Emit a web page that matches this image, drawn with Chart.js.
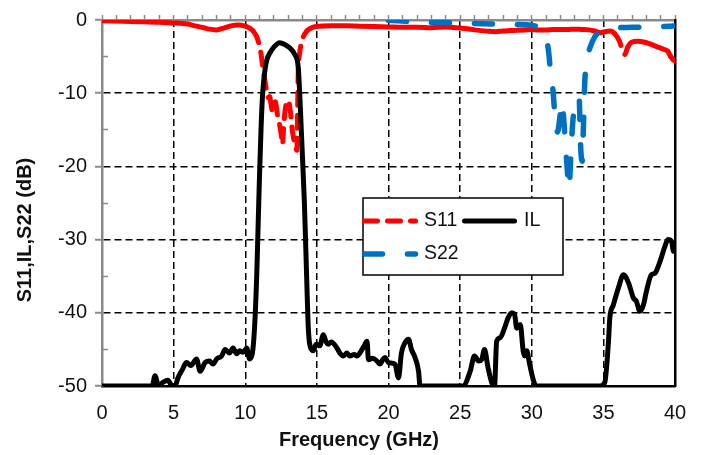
<!DOCTYPE html>
<html lang="en">
<head>
    <meta charset="UTF-8">
    <title>S11, IL, S22</title>
    <script src="https://cdn.jsdelivr.net/npm/chart.js"></script>
    <style>
        html, body { margin: 0; padding: 0; background: #fff; }
        canvas { display: block; }
    </style>
</head>
<body>
    <canvas id="sparams" width="703" height="455"></canvas>

    <script>
        // S11, port 1 reflection (dB)
        const s11Freq = [0, 1, 2, 3, 4, 5, 5.5, 6, 6.5, 7,
            7.5, 8, 8.5, 9, 9.5, 10, 10.3, 10.55, 10.8, 10.95,
            11.1, 11.2, 11.35, 11.5, 11.6, 11.7, 11.8, 11.9, 12.0, 12.1,
            12.25, 12.4, 12.5, 12.6, 12.7, 12.85, 13.0, 13.15, 13.3, 13.45,
            13.6, 13.65, 13.7, 13.8, 14.0, 14.3, 14.7, 15.2, 16, 17,
            18, 19, 20, 21, 22, 23, 24, 25, 25.5, 26,
            26.5, 27, 27.5, 28, 28.5, 29, 29.5, 30, 30.5, 31,
            31.5, 32, 32.5, 33, 33.5, 34, 34.4, 34.8, 35.1, 35.5,
            35.8, 36.1, 36.3, 36.5, 36.7, 37.0, 37.4, 37.8, 38.3, 38.8,
            39.2, 39.5, 39.7, 39.85, 40];
        const s11Db = [-0.1, -0.15, -0.2, -0.25, -0.3, -0.4, -0.45, -0.55, -0.8, -1.0,
            -1.25, -1.35, -1.1, -0.8, -0.7, -0.85, -1.1, -1.5, -2.3, -3.2,
            -4.6, -6.1, -8, -9.8, -10.6, -10.5, -11.5, -12.5, -11.4, -11.2,
            -13, -14.3, -15.5, -17, -14, -11.5, -11, -12.5, -15.3, -16.8,
            -17.8, -13, -7, -4.5, -2.6, -1.5, -1.0, -0.85, -0.8, -0.8,
            -0.85, -0.9, -0.95, -1.0, -1.0, -1.05, -0.95, -1.1, -1.2, -1.35,
            -1.45, -1.55, -1.6, -1.5, -1.45, -1.4, -1.35, -1.3, -1.35, -1.35,
            -1.3, -1.3, -1.3, -1.25, -1.3, -1.35, -1.5, -1.75, -1.6, -1.5,
            -1.9, -2.8, -3.9, -4.7, -3.7, -3.0, -2.9, -3.0, -3.3, -3.7,
            -4.0, -4.3, -5.0, -5.4, -5.6];

        // insertion loss (dB), floor clipped at -50
        const ilFreq = [0, 3.5, 3.7, 3.95, 4.25, 4.6, 4.9, 5.1, 5.3, 5.6,
            5.9, 6.2, 6.6, 6.85, 7.2, 7.5, 7.75, 8.0, 8.35, 8.6,
            8.9, 9.15, 9.4, 9.6, 9.85, 10.1, 10.3, 10.5, 10.65, 10.8,
            10.9, 11.0, 11.1, 11.2, 11.35, 11.5, 11.75, 12.0, 12.4, 12.8,
            13.1, 13.45, 13.7, 13.8, 13.9, 14.0, 14.13, 14.3, 14.4, 14.5,
            14.75, 14.95, 15.2, 15.45, 15.65, 15.8, 16.0, 16.4, 16.6, 16.85,
            17.1, 17.3, 17.6, 17.8, 18.0, 18.3, 18.5, 18.6, 18.9, 19.2,
            19.4, 19.6, 19.75, 20.0, 20.45, 20.7, 20.9, 21.15, 21.4, 21.6,
            21.85, 22.1, 22.2, 25.2, 25.7, 26.0, 26.3, 26.5, 26.7, 26.95,
            27.2, 27.4, 27.55, 27.8, 28.1, 28.35, 28.6, 28.8, 28.95, 29.2,
            29.4, 29.5, 29.65, 29.85, 30.1, 30.3, 34.75, 35.1, 35.35, 35.45,
            35.7, 36.05, 36.4, 36.75, 37.1, 37.3, 37.55, 37.8, 38.0, 38.35,
            38.6, 38.95, 39.3, 39.5, 39.75, 39.9, 40];
        const ilDb = [-50, -50, -48.6, -50, -49.5, -49.2, -50, -50, -48.9, -47.8,
            -46.8, -47.2, -46.3, -48, -46.8, -46.6, -47, -46.3, -45.9, -45,
            -45.5, -44.8, -45.6, -45.2, -45.4, -44.8, -46.3, -45.5, -42, -35,
            -28, -21, -15, -10.5, -7.2, -5.5, -4.4, -3.7, -3.1, -3.4,
            -3.8, -4.7, -6.5, -10, -14.5, -19, -25, -36, -42, -44.3,
            -45.2, -44.3, -44.5, -43, -44, -44.3, -44.0, -44.8, -45.5, -45.9,
            -45.5, -45.9, -45.7, -45.9, -45.5, -44.5, -43.9, -46.4, -46.2, -46.6,
            -47, -46.4, -46.1, -46.8, -47, -48.9, -45.5, -44.1, -43.6, -45,
            -46.1, -48, -50, -50, -48, -45.9, -46.6, -46.4, -45, -47.5,
            -49.5, -50, -43.9, -43.4, -42.1, -40.7, -40, -40.2, -42.1, -41.6,
            -45.2, -45.9, -45.2, -47, -49.1, -50, -50, -49.5, -44.1, -40.7,
            -38.9, -36.6, -34.8, -35.9, -38, -38.4, -39.8, -38.9, -37.1, -34.8,
            -34.6, -33, -30.9, -30, -30.2, -31.6, -31];

        // S22, port 2 reflection (dB), measured from 20 GHz
        const s22Freq = [20.0, 21.5, 22.5, 23.5, 24.5, 25.5, 26.5, 27.5, 28.5, 29.5,
            30.2, 30.5, 30.7, 30.9, 31.15, 31.3, 31.47, 31.6, 31.8, 31.95,
            32.1, 32.25, 32.35, 32.45, 32.6, 32.75, 32.9, 33.1, 33.3, 33.42,
            33.52, 33.6, 33.7, 33.85, 34.1, 34.4, 34.8, 35.2, 36, 37,
            38, 39, 39.6, 40];
        const s22Db = [-0.05, -0.2, -0.3, -0.35, -0.4, -0.45, -0.5, -0.55, -0.6, -0.65,
            -0.8, -1.0, -1.4, -2.3, -3.9, -6.8, -9.4, -12.5, -15.3, -13.5,
            -11.2, -14, -17, -19.6, -23, -17.5, -13.2, -12, -10.5, -17.6,
            -19.3, -15, -8.5, -5.5, -3.6, -2.3, -1.5, -1.2, -1.05, -1.0,
            -0.95, -0.9, -0.85, -0.8];

        const freqRange = [0, 40];
        const freqStep = 5;
        const dbRange = [-50, 0];
        const dbStep = 10;

        const FONT = "'Liberation Sans', Arial, sans-serif";
        const AXIS_GREY = '#8a8a8a';
        const GRID_DASH = [7, 4];
        const S11_DASH = [13, 10];
        const S22_DASH = [18, 25];
        const CLEAR = 'rgba(0,0,0,0)';

        function toPoints(xs, ys) {
            return xs.map((x, i) => ({ x: x, y: ys[i] }));
        }

        // only steep runs of S11 show their dashes, the flat parts look solid
        function steep(ctx) {
            return Math.abs(ctx.p1.y - ctx.p0.y) > 1.5 * Math.abs(ctx.p1.x - ctx.p0.x);
        }

        // dashed grid inside the frame, nothing on the frame edges
        function innerGrid(lo, hi) {
            return c => (c.tick.value > lo && c.tick.value < hi) ? '#000' : CLEAR;
        }

        // boxed legend in two rows: S11 + IL, then S22
        const boxLegend = {
            id: 'boxLegend',
            afterDatasetsDraw(chart) {
                const ctx = chart.ctx;
                const [s11, il, s22] = chart.data.datasets;
                ctx.save();
                ctx.fillStyle = '#fff';
                ctx.fillRect(363, 198, 200, 77);
                ctx.strokeStyle = '#000';
                ctx.lineWidth = 1.5;
                ctx.strokeRect(363, 198, 200, 77);

                const sample = (ds, x0, x1, y, dash) => {
                    ctx.beginPath();
                    ctx.setLineDash(dash);
                    ctx.lineCap = 'round';
                    ctx.strokeStyle = ds.borderColor;
                    ctx.lineWidth = ds.borderWidth;
                    ctx.moveTo(x0, y);
                    ctx.lineTo(x1, y);
                    ctx.stroke();
                };
                sample(s11, 364.5, 415.5, 221, S11_DASH);
                sample(il, 464.5, 514.5, 221, []);
                sample(s22, 364.5, 415.5, 254, S22_DASH);

                ctx.setLineDash([]);
                ctx.fillStyle = '#111';
                ctx.font = '19.5px ' + FONT;
                ctx.textBaseline = 'middle';
                ctx.textAlign = 'left';
                ctx.fillText(s11.label, 424, 221);
                ctx.fillText(il.label, 524, 221);
                ctx.fillText(s22.label, 424, 254);
                ctx.restore();
            }
        };

        // axis titles are centred on the whole figure, not on the plot frame
        const axisTitles = {
            id: 'axisTitles',
            afterDraw(chart) {
                const ctx = chart.ctx;
                ctx.save();
                ctx.fillStyle = '#111';
                ctx.font = 'bold 20px ' + FONT;
                ctx.textAlign = 'center';
                ctx.textBaseline = 'middle';
                ctx.fillText('Frequency (GHz)', 359, 440);
                ctx.translate(25, 230);
                ctx.rotate(-Math.PI / 2);
                ctx.fillText('S11,IL,S22 (dB)', 0, 0);
                ctx.restore();
            }
        };

        new Chart(document.getElementById('sparams'), {
            type: 'line',
            data: {
                datasets: [{
                    label: 'S11',
                    data: toPoints(s11Freq, s11Db),
                    borderColor: '#ff0000',
                    borderWidth: 5,
                    borderDash: [],
                    segment: { borderDash: ctx => steep(ctx) ? S11_DASH : undefined },
                    xAxisID: 'x', yAxisID: 'y',
                    order: 3
                }, {
                    label: 'IL',
                    data: toPoints(ilFreq, ilDb),
                    borderColor: '#000000',
                    borderWidth: 5,
                    xAxisID: 'x', yAxisID: 'y',
                    order: 2
                }, {
                    label: 'S22',
                    data: toPoints(s22Freq, s22Db),
                    borderColor: '#0070c0',
                    borderWidth: 5.5,
                    borderDash: S22_DASH,
                    xAxisID: 'x', yAxisID: 'y',
                    order: 1
                }]
            },
            options: {
                responsive: false,
                animation: false,
                events: [],
                layout: { padding: { top: 19, right: 28, bottom: 0, left: 0 } },
                elements: {
                    point: { radius: 0 },
                    line: {
                        fill: false,
                        borderCapStyle: 'round',
                        borderJoinStyle: 'round',
                        cubicInterpolationMode: 'monotone'
                    }
                },
                plugins: {
                    legend: { display: false },
                    tooltip: { enabled: false }
                },
                scales: {
                    x: {
                        type: 'linear',
                        position: 'bottom',
                        min: freqRange[0], max: freqRange[1],
                        ticks: { stepSize: freqStep, color: '#111', font: { family: FONT, size: 20 }, padding: 15, maxRotation: 0 },
                        grid: { color: innerGrid(freqRange[0], freqRange[1]), lineWidth: 1.5, drawTicks: false },
                        border: { color: '#000', width: 2.5, dash: GRID_DASH },
                        afterFit: s => { s.height = 69; }
                    },
                    xTop: {
                        type: 'linear',
                        position: 'top',
                        min: freqRange[0], max: freqRange[1],
                        ticks: { display: false, stepSize: 1 },
                        grid: { drawOnChartArea: false, tickLength: 5, tickWidth: 1.5, tickColor: AXIS_GREY },
                        border: { color: AXIS_GREY, width: 2.5 },
                        afterFit: s => { s.height = 0; }
                    },
                    y: {
                        type: 'linear',
                        position: 'left',
                        weight: 1,
                        min: dbRange[0], max: dbRange[1],
                        ticks: { stepSize: dbStep, color: '#111', font: { family: FONT, size: 20 }, padding: 8 },
                        grid: {
                            color: innerGrid(dbRange[0], dbRange[1]),
                            lineWidth: 1.5,
                            tickColor: AXIS_GREY,
                            tickLength: 7,
                            tickWidth: 2,
                            tickBorderDash: []
                        },
                        border: { color: AXIS_GREY, width: 2.5, dash: GRID_DASH },
                        afterFit: s => { s.width = 102; }
                    },
                    // inner half-step ticks on the dB axis
                    yMinor: {
                        type: 'linear',
                        position: 'left',
                        weight: 0,
                        min: dbRange[0], max: dbRange[1],
                        ticks: { display: false, stepSize: dbStep / 2 },
                        grid: {
                            drawOnChartArea: false,
                            tickLength: -6,
                            tickWidth: 1.5,
                            tickColor: c => (c.tick.value % dbStep) ? AXIS_GREY : CLEAR
                        },
                        border: { display: false },
                        afterFit: s => { s.width = 0; }
                    },
                    yRight: {
                        type: 'linear',
                        position: 'right',
                        min: dbRange[0], max: dbRange[1],
                        ticks: { display: false },
                        grid: { drawOnChartArea: false, drawTicks: false },
                        border: { color: '#000', width: 2.5 },
                        afterFit: s => { s.width = 0; }
                    }
                }
            },
            plugins: [boxLegend, axisTitles]
        });
    </script>
</body>
</html>
